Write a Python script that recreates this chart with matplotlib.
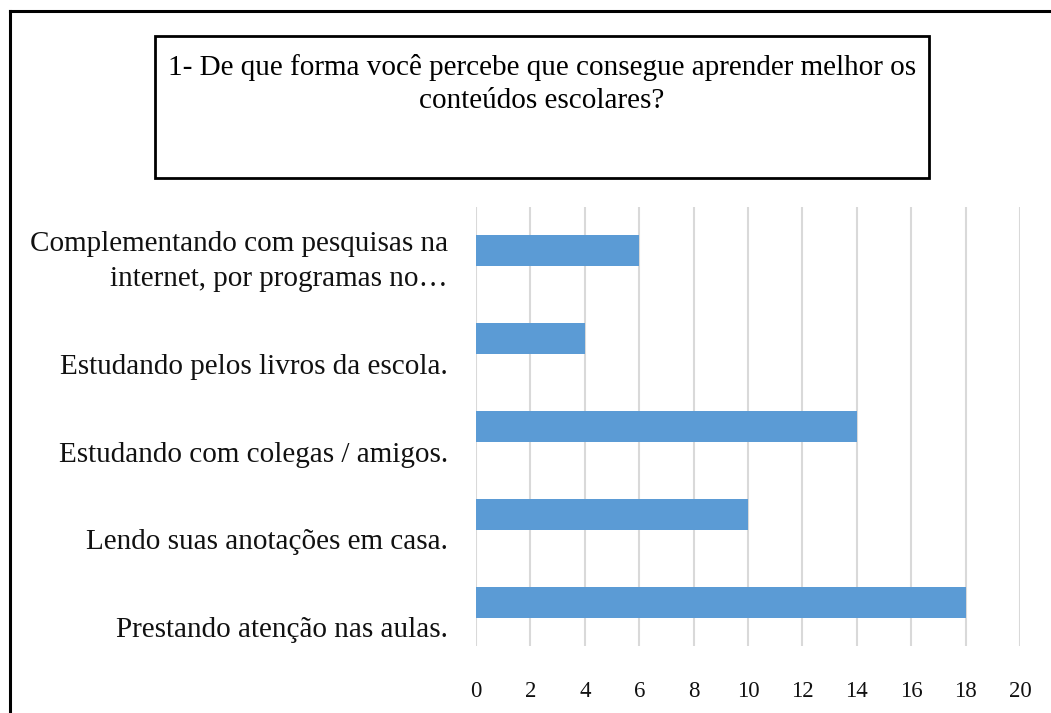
import matplotlib
matplotlib.use("Agg")
import matplotlib.pyplot as plt
import numpy as np
from matplotlib.patches import Rectangle
from matplotlib.lines import Line2D

categories = [
    "Complementando com pesquisas na\ninternet, por programas no…",
    "Estudando pelos livros da escola.",
    "Estudando com colegas / amigos.",
    "Lendo suas anotações em casa.",
    "Prestando atenção nas aulas.",
]
values = [6, 4, 14, 10, 18]
xticks = [0, 2, 4, 6, 8, 10, 12, 14, 16, 18, 20]
title = "1- De que forma você percebe que consegue aprender melhor os\nconteúdos escolares?"

plt.rcParams['font.family'] = ['Liberation Serif', 'DejaVu Serif']

W, H = 1051, 713
fig = plt.figure(figsize=(W / 100, H / 100), dpi=100)

def fx(px):
    return px / W

def fy(py):
    return 1 - py / H

ax = fig.add_axes([fx(476), fy(646), fx(1020) - fx(476), fy(207) - fy(646)])
y = np.arange(len(categories))
ax.barh(y, values, height=0.355, color="#5B9BD5", zorder=3)
ax.set_xlim(0, 20)
ax.set_ylim(len(categories) - 0.5, -0.5)
ax.set_xticks(xticks)
ax.set_xticklabels([str(t) for t in xticks], fontsize=16.5, color="#111111")
ax.tick_params(axis='x', length=0, pad=25)
ax.set_yticks([])
ax.grid(axis='x', color="#D9D9D9", linewidth=1.5, zorder=0)
for s in ax.spines.values():
    s.set_visible(False)

for yi, lab in zip(y, categories):
    ax.text(-28 / 27.2, yi + 0.40, lab, ha='right', va='baseline', multialignment='right',
            fontsize=21, color="#111111", linespacing=1.45)

# title box
fig.patches.append(Rectangle((fx(155), fy(178)), fx(929) - fx(155), fy(36) - fy(178),
                             transform=fig.transFigure, fill=False, edgecolor='black',
                             linewidth=2.0))
fig.text(fx(542), fy(54), title, ha='center', va='top', fontsize=21, color='black',
         linespacing=1.33)

# outer frame (cropped)
fig.add_artist(Line2D([fx(10), fx(10)], [0, fy(11)], transform=fig.transFigure,
                      color='black', linewidth=2.2))
fig.add_artist(Line2D([fx(10), 1], [fy(11), fy(11)], transform=fig.transFigure,
                      color='black', linewidth=2.2))

fig.savefig("out.png", dpi=100)
